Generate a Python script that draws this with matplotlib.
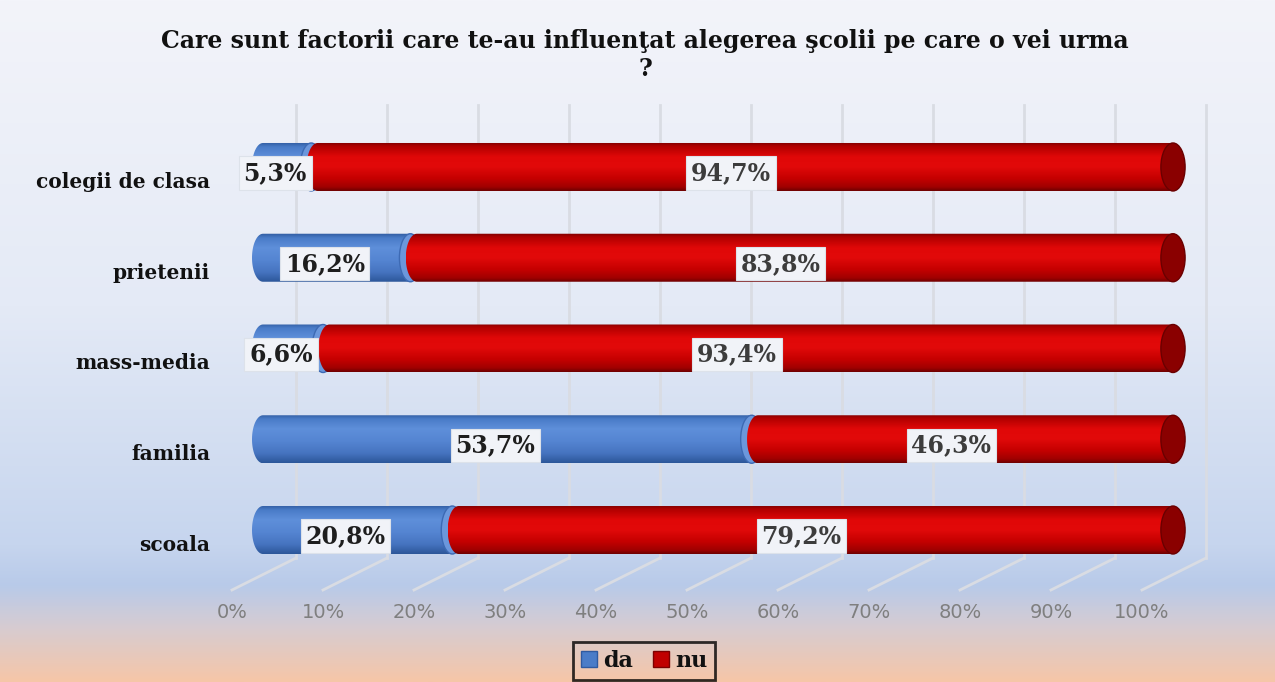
import numpy as np
import matplotlib
matplotlib.use("Agg")
import matplotlib.pyplot as plt
from matplotlib.colors import LinearSegmentedColormap
from matplotlib.patches import Polygon, Ellipse, Patch

# date
categorii = ["scoala", "familia", "mass-media", "prietenii", "colegii de clasa"]
da = [20.8, 53.7, 6.6, 16.2, 5.3]
nu = [79.2, 46.3, 93.4, 83.8, 94.7]
ticks = [0, 10, 20, 30, 40, 50, 60, 70, 80, 90, 100]
titlu = "Care sunt factorii care te-au influenţat alegerea şcolii pe care o vei urma\n?"

W, H = 1275, 682
fig = plt.figure(figsize=(W / 100, H / 100), dpi=100)

# fundal cu gradient
bg = fig.add_axes([0, 0, 1, 1])
bg.axis("off")
bg_cmap = LinearSegmentedColormap.from_list("bg", [
    (0.0, "#f3f4fa"), (0.45, "#e4eaf6"), (0.8, "#c6d5ee"), (0.86, "#b8cae9"),
    (0.92, "#d6ccd2"), (1.0, "#f6c6a8")])
bg.imshow(np.linspace(0, 1, 256).reshape(-1, 1), cmap=bg_cmap, aspect="auto",
          extent=[0, 1, 0, 1], zorder=-10)
bg.set_xlim(0, 1)
bg.set_ylim(0, 1)

px_x = 9.1      # pixeli per 1%
px_y = 90.75    # pixeli per categorie
xlo, xhi = -4, 104
ax = fig.add_axes([(263 + xlo * px_x) / W, 1 - 590 / H, (xhi - xlo) * px_x / W, 485 / H])
ylo, yhi = -0.661, 4.683
ax.axis("off")

# perete din spate + podea
back_dx = 33 / px_x
front_dx = -31 / px_x
back_y0 = -28 / px_y
for v in ticks:
    ax.plot([v + back_dx, v + back_dx], [back_y0, yhi], color="#d9dce3", lw=2,
            clip_on=False, zorder=1)
    ax.plot([v + back_dx, v + front_dx], [back_y0, ylo], color="#d9dce3", lw=2,
            clip_on=False, zorder=1)
    ax.annotate(f"{v}%", xy=(v + front_dx, ylo), xytext=(0, -22),
                textcoords="offset pixels", ha="center", va="center",
                fontsize=14, color="#7f7f7f", family="DejaVu Sans",
                annotation_clip=False)

red_cmap = LinearSegmentedColormap.from_list("r", [
    (0.0, "#7c0000"), (0.08, "#b00000"), (0.3, "#e00808"), (0.5, "#e20a0a"),
    (0.75, "#c40000"), (0.92, "#a00000"), (1.0, "#6e0000")])
blue_cmap = LinearSegmentedColormap.from_list("b", [
    (0.0, "#2f5aa0"), (0.1, "#4a7cc8"), (0.3, "#5e8fda"), (0.55, "#5585d2"),
    (0.8, "#4674c0"), (1.0, "#2c5699")])
grad = np.linspace(0, 1, 128).reshape(-1, 1)

rx = 11 / px_x
hh = 24 / px_y


def cilindru(x0, x1, y, cmap, z):
    t1 = np.linspace(np.pi / 2, 3 * np.pi / 2, 40)
    t2 = np.linspace(-np.pi / 2, np.pi / 2, 40)
    xs = np.concatenate([x0 + rx * np.cos(t1), x1 + rx * np.cos(t2)])
    ys = np.concatenate([y + hh * np.sin(t1), y + hh * np.sin(t2)])
    poly = Polygon(np.column_stack([xs, ys]), closed=True, transform=ax.transData)
    im = ax.imshow(grad, cmap=cmap, aspect="auto", zorder=z,
                   extent=[x0 - rx, x1 + rx, y - hh, y + hh])
    im.set_clip_path(poly)


for k, (cat, a, b) in enumerate(zip(categorii, da, nu)):
    cilindru(0, a, k, blue_cmap, 3)
    ax.add_patch(Ellipse((a, k), 2 * rx, 2 * hh, facecolor="#6b97dc",
                         edgecolor="#3d6ab4", lw=1, zorder=4))
    cilindru(a + 0.7, a + b, k, red_cmap, 5)
    ax.add_patch(Ellipse((a + b, k), 2.2 * rx, 2 * hh, facecolor="#8a0000",
                         edgecolor="#6a0000", lw=1, zorder=6))

    box = dict(boxstyle="square,pad=0.2", facecolor="#f1f3f8", edgecolor="#dde2ea", lw=0.8)
    ax.annotate(f"{a:.1f}%".replace(".", ","), xy=(a / 2, k), xytext=(-12, -6),
                textcoords="offset pixels", ha="center", va="center",
                fontsize=17, fontweight="bold", family="DejaVu Serif",
                color="#1e1e1e", bbox=box, zorder=8)
    ax.annotate(f"{b:.1f}%".replace(".", ","), xy=(a + b / 2, k), xytext=(-11, -6),
                textcoords="offset pixels", ha="center", va="center",
                fontsize=17, fontweight="bold", family="DejaVu Serif",
                color="#3c3c3c", bbox=box, zorder=8)

    ax.annotate(cat, xy=(0, k), xytext=(-53, -15), textcoords="offset pixels",
                ha="right", va="center", fontsize=14.5, fontweight="bold",
                family="DejaVu Serif", color="#111111", annotation_clip=False)

ax.set_xlim(xlo, xhi)
ax.set_ylim(ylo, yhi)

fig.text(645 / W, 1 - 29 / H, titlu, ha="center", va="top", fontsize=17,
         fontweight="bold", family="DejaVu Serif", linespacing=1.2, color="#111111")

leg = fig.legend(handles=[Patch(facecolor="#4a7cc8", edgecolor="#2f5aa0"),
                          Patch(facecolor="#c00000", edgecolor="#7c0000")],
                 labels=["da", "nu"], loc="center", bbox_to_anchor=(644 / W, 1 - 661 / H),
                 ncol=2, frameon=True, fancybox=False, edgecolor="black",
                 prop={"family": "DejaVu Serif", "weight": "bold", "size": 16},
                 handlelength=0.7, handleheight=0.7, columnspacing=0.9,
                 handletextpad=0.3, borderpad=0.35, borderaxespad=0, facecolor="none")
leg.get_frame().set_linewidth(2)
leg._legend_box.sep = 0
for t in leg.get_texts():
    t.set_color("#111111")
fig.canvas.draw()
leg.set_bbox_to_anchor((644 / W, 1 - 661 / H))
for handle in leg.legend_handles:
    handle.set_width(12)

fig.savefig("out.png", dpi=100)
